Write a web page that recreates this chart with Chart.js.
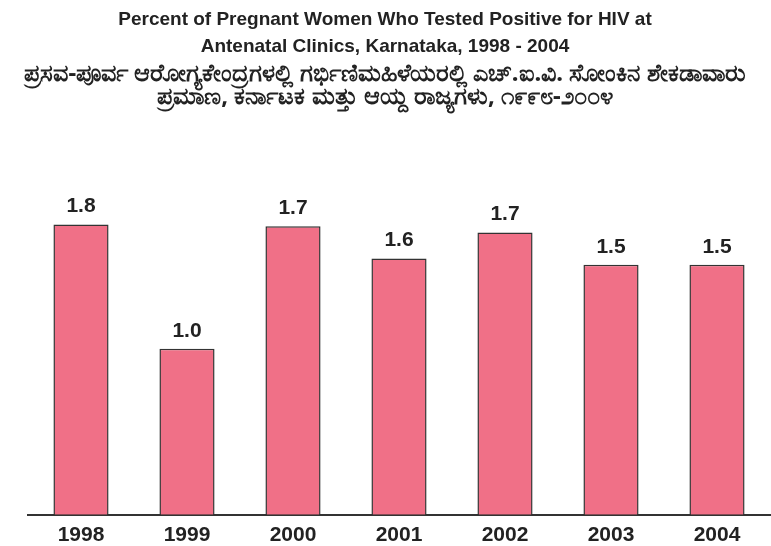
<!doctype html>
<html>
<head>
<meta charset="utf-8">
<title>HIV ANC Karnataka</title>
<script src="https://cdn.jsdelivr.net/npm/chart.js@4.4.1/dist/chart.umd.min.js"></script>
<style>
  html, body { margin: 0; padding: 0; background: #fff; }
  #wrap { width: 771px; height: 546px; }
</style>
</head>
<body>
<div id="wrap"><canvas id="c"></canvas></div>
<script>
  var years = ['1998', '1999', '2000', '2001', '2002', '2003', '2004'];
  // bar heights
  var positivePct = [1.8, 1.03, 1.79, 1.59, 1.75, 1.55, 1.55];
  // the numbers printed above the bars
  var pctLabels = ['1.8', '1.0', '1.7', '1.6', '1.7', '1.5', '1.5'];

  var titleLines = ['Percent of Pregnant Women Who Tested Positive for HIV at',
                    'Antenatal Clinics, Karnataka, 1998 - 2004'];
  var subtitleLines = ['ಪ್ರಸವ-ಪೂರ್ವ ಆರೋಗ್ಯಕೇಂದ್ರಗಳಲ್ಲಿ ಗರ್ಭಿಣಿಮಹಿಳೆಯರಲ್ಲಿ ಎಚ್.ಐ.ವಿ. ಸೋಂಕಿನ ಶೇಕಡಾವಾರು',
                       'ಪ್ರಮಾಣ, ಕರ್ನಾಟಕ ಮತ್ತು ಆಯ್ದ ರಾಜ್ಯಗಳು, ೧೯೯೮-೨೦೦೪'];

  var textColor = '#222';

  var barValueLabels = {
    id: 'barValueLabels',
    afterDatasetsDraw: function(chart) {
      var ctx = chart.ctx;
      var meta = chart.getDatasetMeta(0);
      ctx.save();
      ctx.font = 'bold 21px "Liberation Sans", Arial, sans-serif';
      ctx.fillStyle = textColor;
      ctx.textAlign = 'center';
      ctx.textBaseline = 'middle';
      meta.data.forEach(function(bar, i) {
        ctx.fillText(pctLabels[i], bar.x, bar.y - 18);
      });
      ctx.restore();
    }
  };

  new Chart(document.getElementById('c'), {
    type: 'bar',
    data: {
      labels: years,
      datasets: [{
        data: positivePct,
        backgroundColor: 'rgb(240, 112, 135)',
        borderColor: '#333',
        borderWidth: 1.5,
        categoryPercentage: 1,
        barPercentage: 0.52
      }]
    },
    options: {
      responsive: true,
      maintainAspectRatio: false,
      animation: false,
      layout: { padding: { left: 0, right: 1, top: 6, bottom: -10 } },
      plugins: {
        legend: { display: false },
        tooltip: { enabled: false },
        title: {
          display: true,
          text: titleLines,
          color: textColor,
          font: { family: '"Liberation Sans", Arial, sans-serif', size: 19, weight: 'bold', lineHeight: 1.42 },
          padding: { top: 0, bottom: 3 }
        },
        subtitle: {
          display: true,
          text: subtitleLines,
          color: textColor,
          font: { family: '"Noto Sans", "DejaVu Sans", sans-serif', size: 24, weight: 'bold', lineHeight: 0.96 },
          padding: { top: 0, bottom: 51 }
        }
      },
      scales: {
        x: {
          grid: { display: false, drawTicks: false },
          border: { display: true, color: '#333', width: 2 },
          ticks: {
            color: textColor,
            padding: 8,
            font: { family: '"Liberation Sans", Arial, sans-serif', size: 21, weight: 'bold' }
          }
        },
        y: {
          display: true,
          min: 0,
          max: 2.2,
          grid: { display: false },
          border: { display: false },
          ticks: { display: false },
          afterFit: function(scale) { scale.width = 28; }
        }
      }
    },
    plugins: [barValueLabels]
  });
</script>
</body>
</html>
